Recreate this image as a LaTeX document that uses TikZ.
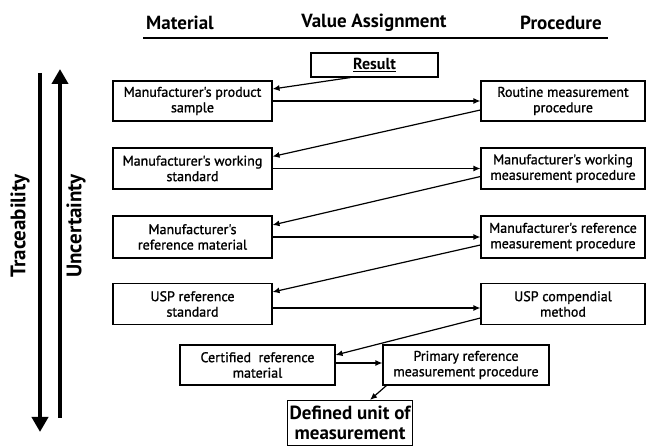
\documentclass[tikz,border=0pt]{standalone}
\usepackage{fontspec}
\setmainfont{PT Sans}
\newfontfamily\boxfont{PT Sans}[FakeBold=1.2]
\usetikzlibrary{arrows.meta}
\begin{document}
\begin{tikzpicture}[x=1pt,y=-1pt,
  box/.style={draw,line width=1.1pt,align=center,inner sep=1pt,font=\boxfont\fontsize{14}{15.5}\selectfont},
  conn/.style={line width=1.2pt,-{Latex[length=7pt,width=6pt]}},
  head/.style={font=\fontsize{19}{21}\selectfont\bfseries},
  big/.style={line width=4pt,-{Triangle[length=15pt,width=16pt]}},
  side/.style={font=\fontsize{21}{23}\selectfont\bfseries,rotate=90}]
\useasboundingbox (0,0) rectangle (646,446);
% headers
\node[head] (hm) at (180,23) {Material};
\node[head] (hv) at (374,23) {Value Assignment};
\node[head] (hp) at (561,23) {Procedure};
\draw[line width=1.5pt] (143,38) -- (608,38);
% side arrows
\coordinate (t1) at (40,73);
\coordinate (t2) at (40,432);
\coordinate (u1) at (60,418);
\coordinate (u2) at (60,69);
\draw[big] (t1) -- (t2);
\draw[big] (u1) -- (u2);
\node[side] (tr) at (20,226) {Traceability};
\node[side] (un) at (76,226) {Uncertainty};
% boxes
\node[box,minimum width=127pt,minimum height=24pt,font=\fontsize{16}{18}\selectfont\bfseries] (res) at (374.5,65) {\underline{Result}};
\node[box,minimum width=159pt,minimum height=40pt] (l1) at (192.5,101) {Manufacturer's product\\sample};
\node[box,minimum width=164pt,minimum height=40pt] (r1) at (563,101) {Routine measurement\\procedure};
\node[box,minimum width=159pt,minimum height=41pt] (l2) at (192.5,168.5) {Manufacturer's working\\standard};
\node[box,minimum width=164pt,minimum height=41pt] (r2) at (563,168.5) {Manufacturer's working\\measurement procedure};
\node[box,minimum width=159pt,minimum height=42pt] (l3) at (192.5,237) {Manufacturer's\\reference material};
\node[box,minimum width=164pt,minimum height=42pt] (r3) at (563,237) {Manufacturer's reference\\measurement procedure};
\node[box,minimum width=159pt,minimum height=41pt] (l4) at (192.5,304) {USP reference\\standard};
\node[box,minimum width=164pt,minimum height=41pt] (r4) at (563,304) {USP compendial\\method};
\node[box,minimum width=155pt,minimum height=40pt] (c5) at (257.5,365) {Certified\ \ reference\\material};
\node[box,minimum width=166pt,minimum height=40pt] (p5) at (466,365) {Primary reference\\measurement procedure};
\node[box,minimum width=125pt,minimum height=45pt,font=\fontsize{19}{20}\selectfont\bfseries] (du) at (350,423) {Defined unit of\\measurement};
% connectors
\draw[conn] ([xshift=40pt]res.south west) -- ([yshift=12pt]l1.east);
\draw[conn] (l1.east) -- (r1.west);
\draw[conn] ([yshift=-9pt]r1.west) -- ([yshift=12pt]l2.east);
\draw[conn] (l2.east) -- (r2.west);
\draw[conn] ([yshift=-8pt]r2.west) -- ([yshift=12pt]l3.east);
\draw[conn] (l3.east) -- (r3.west);
\draw[conn] ([yshift=-8pt]r3.west) -- ([yshift=12pt]l4.east);
\draw[conn] ([yshift=-4pt]l4.east) -- ([yshift=-4pt]r4.west);
\draw[conn] ([yshift=-14pt]r4.west) -- ([yshift=10pt]c5.east);
\draw[conn] ([yshift=2pt]c5.east) -- ([yshift=2pt]p5.west);
\draw[conn] ([xshift=4pt]p5.south west) -- ([xshift=20pt]du.north);
\end{tikzpicture}
\end{document}
